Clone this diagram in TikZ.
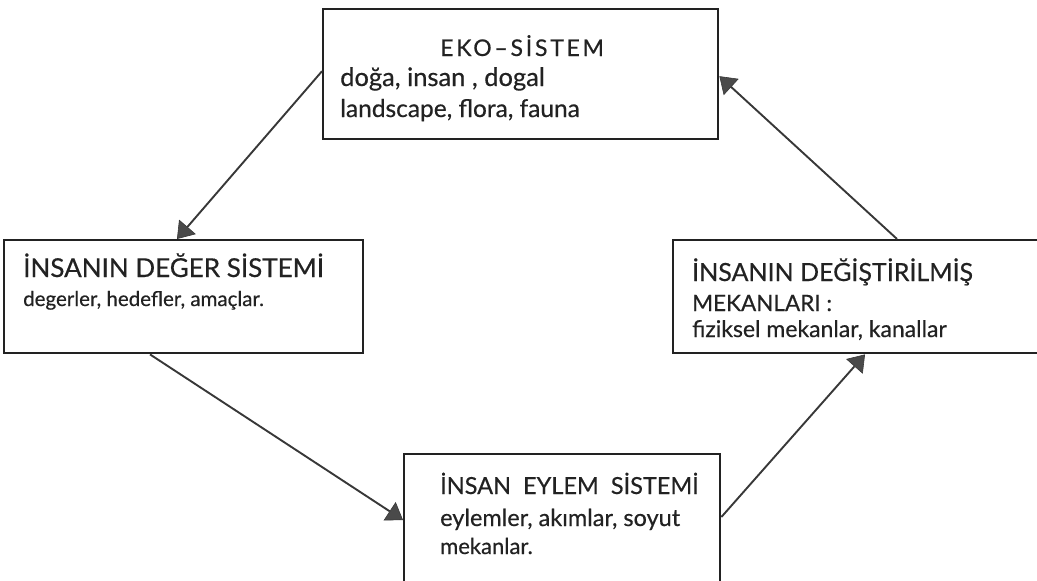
\documentclass[tikz,border=0pt]{standalone}
\usepackage{fontspec}
\setmainfont{Lato}[FakeBold=0.5]
\usetikzlibrary{arrows.meta}
\definecolor{ink}{HTML}{222222}
\definecolor{headfill}{HTML}{4A4A4A}
\tikzset{
  box/.style={draw=ink, line width=2.4pt, rectangle, inner sep=0pt, anchor=north west},
  txt/.style={anchor=base west, inner sep=0pt, text=ink},
  flow/.style={draw=ink!90, line width=1.9pt,
    -{Triangle[length=16pt, width=22pt, fill=headfill, line width=0.6pt]}}
}
\newcommand{\fs}[1]{\fontsize{#1}{#1}\selectfont}
\begin{document}
\begin{tikzpicture}[x=1pt, y=-1pt]
\useasboundingbox (0,0) rectangle (1037,581);
\clip (0,0) rectangle (1037,581);

% the four systems
\node[box, minimum width=395pt, minimum height=130pt] (eko)   at (322,8)   {};
\node[box, minimum width=359pt, minimum height=113pt] (deger) at (3,239)   {};
\node[box, minimum width=380pt, minimum height=113pt] (mekan) at (672,239) {};
\node[box, minimum width=316pt, minimum height=140pt] (eylem) at (403,453) {};

% eco-system
\node[txt, font=\fs{23}\addfontfeatures{LetterSpace=12}] (ekot) at (440,56) {EKO–SİSTEM};
\node[txt, font=\fs{25.5}] (ekoa) at (340,86)  {doğa, insan , dogal};
\node[txt, font=\fs{24.5}] (ekob) at (340,117) {landscape, flora, fauna};

% value system
\node[txt, font=\fs{26}] (degert) at (23,277) {İNSANIN DEĞER SİSTEMİ};
\node[txt, font=\fs{20.5}] (degera) at (23,306) {degerler, hedefler, amaçlar.};

% modified spaces
\node[txt, font=\fs{25}] (mekant) at (692,281) {İNSANIN DEĞİŞTİRİLMİŞ};
\node[txt, font=\fs{22.5}] (mekana) at (692,311) {MEKANLARI :};
\node[txt, font=\fs{23}] (mekanb) at (692,337) {fiziksel mekanlar, kanallar};

% action system
\node[txt, font=\fs{23.5}] (eylemt) at (440,494) {İNSAN\ \ EYLEM\ \ SİSTEMİ};
\node[txt, font=\fs{23.5}] (eylema) at (440,526) {eylemler, akımlar, soyut};
\node[txt, font=\fs{22}] (eylemb) at (440,554) {mekanlar.};

% the cycle
\draw[flow] ([yshift=3pt]eko.west) -- ([xshift=174pt]deger.north west);
\draw[flow] ([xshift=147pt]deger.south west) -- ([yshift=-67pt]eylem.north west);
\draw[flow] ([yshift=-64pt]eylem.north east) -- ([xshift=193pt]mekan.south west);
\draw[flow] ([xshift=225pt]mekan.north west) -- ([yshift=-2pt]eko.east);
\end{tikzpicture}
\end{document}
